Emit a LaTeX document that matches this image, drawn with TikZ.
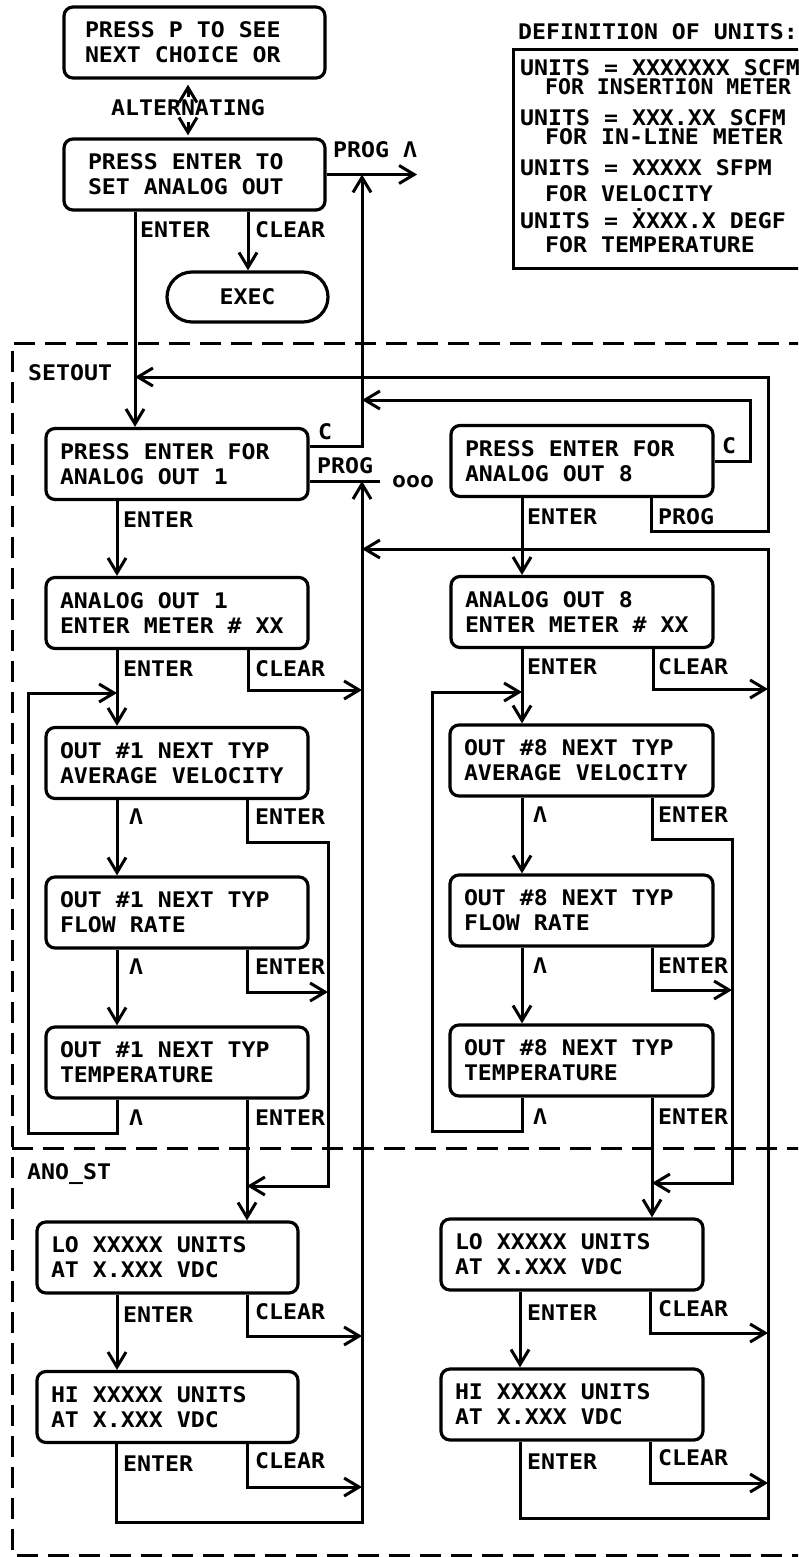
\documentclass[tikz,border=0pt]{standalone}
\usepackage{fontspec}
\newfontfamily\pf{DejaVu Sans Mono}[FakeStretch=1.08]
\newfontfamily\pfn{DejaVu Sans Mono}[FakeStretch=1.0]
\newcommand\plotfnt{\pf\bfseries\fontsize{21.5}{25}\selectfont}
\newcommand\plotfntn{\pfn\bfseries\fontsize{21.5}{25}\selectfont}
\usetikzlibrary{arrows.meta}
\begin{document}
\begin{tikzpicture}[x=1pt,y=-1pt,
  >={Straight Barb[length=15pt,width=18pt]},
  box/.style={draw, line width=3.2pt, rounded corners=9pt, align=flush left, minimum height=71pt,
    inner ysep=0pt, inner xsep=14pt, text width=234pt, font=\plotfnt},
  lbl/.style={anchor=base west, inner sep=0pt, font=\plotfnt},
  flow/.style={line width=3pt, ->},
  wire/.style={line width=3pt},
  frame/.style={line width=3pt, dash pattern=on 21pt off 10pt}]
\useasboundingbox (0,0) rectangle (798,1557);
\fill[white] (0,0) rectangle (798,1557);
\clip (0,0) rectangle (798,1557);

% top part
\node[box, text width=219pt, inner xsep=21pt] (p1) at (194.5,42.5) {PRESS P TO SEE\\NEXT CHOICE OR};
\node[box, text width=213pt, inner xsep=24pt] (p2) at (194.5,174.5) {PRESS ENTER TO\\SET ANALOG OUT};
\node[inner sep=0pt, font=\plotfnt] (alt) at (188,108) {ALTERNATING};
\node[draw, line width=3.2pt, rounded corners=25pt, minimum width=161pt, minimum height=50pt, inner sep=0pt, font=\plotfnt] (exec) at (247.5,297) {EXEC};
\node[lbl] (progA) at (333,157.8) {PROG Λ};
\node[lbl] (tEnt0) at (140,237.8) {ENTER};
\node[lbl] (tClr0) at (255,237.8) {CLEAR};

% definition of units
\node[lbl] (defT) at (518,39.8) {DEFINITION OF UNITS:};
\node[draw, line width=3.2pt, anchor=north west, minimum width=330pt, minimum height=219pt, inner sep=0pt] (defbox) at (512,48) {};
\node[lbl] (d1) at (520,75.8) {UNITS = XXXXXXX SCFM};
\node[lbl, font=\plotfntn] (d2) at (545,94.8) {FOR INSERTION METER};
\node[lbl] (d3) at (520,125.8) {UNITS = XXX.XX SCFM};
\node[lbl] (d4) at (545,144.8) {FOR IN-LINE METER};
\node[lbl] (d5) at (520,175.8) {UNITS = XXXXX SFPM};
\node[lbl] (d6) at (545,201.8) {FOR VELOCITY};
\node[lbl] (d7) at (520,228.8) {UNITS = ẊXXX.X DEGF};
\node[lbl] (d8) at (545,252.8) {FOR TEMPERATURE};

% frames
\draw[frame] (810,343) -- (12,343) -- (12,1555) -- (810,1555);
\draw[frame] (12,1148) -- (810,1148);
\node[lbl] (setout) at (28,380.8) {SETOUT};
\node[lbl] (anost) at (27,1179.8) {ANO\_ST};

% left column
\node[box] (a1) at (177,464) {PRESS ENTER FOR\\ANALOG OUT 1};
\node[box] (a2) at (177,613) {ANALOG OUT 1\\ENTER METER \# XX};
\node[box] (a3) at (177,763) {OUT \#1 NEXT TYP\\AVERAGE VELOCITY};
\node[box] (a4) at (177,912.5) {OUT \#1 NEXT TYP\\FLOW RATE};
\node[box] (a5) at (177,1062.5) {OUT \#1 NEXT TYP\\TEMPERATURE};
\node[box, text width=233pt] (a6) at (167.5,1257.5) {LO XXXXX UNITS\\AT X.XXX VDC};
\node[box, text width=233pt] (a7) at (167.5,1407) {HI XXXXX UNITS\\AT X.XXX VDC};

% right column
\node[box] (b1) at (582,461) {PRESS ENTER FOR\\ANALOG OUT 8};
\node[box] (b2) at (582,612) {ANALOG OUT 8\\ENTER METER \# XX};
\node[box, text width=235pt] (b3) at (581.5,760.5) {OUT \#8 NEXT TYP\\AVERAGE VELOCITY};
\node[box, text width=235pt] (b4) at (581.5,910.5) {OUT \#8 NEXT TYP\\FLOW RATE};
\node[box, text width=235pt] (b5) at (581.5,1060.5) {OUT \#8 NEXT TYP\\TEMPERATURE};
\node[box] (b6) at (572,1254.5) {LO XXXXX UNITS\\AT X.XXX VDC};
\node[box] (b7) at (572,1404.5) {HI XXXXX UNITS\\AT X.XXX VDC};

% labels
\node[lbl] (cA) at (318,439) {C};
\node[lbl] (pgA) at (317,473.8) {PROG};
\node[lbl] (ooo) at (392,487) {ooo};
\node[lbl] (cB) at (722,453.8) {C};
\node[lbl] (pgB) at (658,524.8) {PROG};
\node[lbl] at (123,527.8) {ENTER};
\node[lbl] at (527,524.8) {ENTER};
\node[lbl] at (123,676.8) {ENTER};
\node[lbl] at (255,676.8) {CLEAR};
\node[lbl] at (527,674.8) {ENTER};
\node[lbl] at (658,674.8) {CLEAR};
\node[lbl] at (129,824.8) {Λ};
\node[lbl] at (255,824.8) {ENTER};
\node[lbl] at (129,974.8) {Λ};
\node[lbl] at (255,974.8) {ENTER};
\node[lbl] at (129,1125.8) {Λ};
\node[lbl] at (255,1125.8) {ENTER};
\node[lbl] at (533,822.8) {Λ};
\node[lbl] at (658,822.8) {ENTER};
\node[lbl] at (533,973.8) {Λ};
\node[lbl] at (658,973.8) {ENTER};
\node[lbl] at (533,1124.8) {Λ};
\node[lbl] at (658,1124.8) {ENTER};
\node[lbl] at (123,1322.8) {ENTER};
\node[lbl] at (255,1319.8) {CLEAR};
\node[lbl] at (123,1471.8) {ENTER};
\node[lbl] at (255,1468.8) {CLEAR};
\node[lbl] at (527,1320.8) {ENTER};
\node[lbl] at (658,1316.8) {CLEAR};
\node[lbl] at (527,1469.8) {ENTER};
\node[lbl] at (658,1465.8) {CLEAR};

% top connectors
\draw[flow, shorten >=5pt, shorten <=3pt] (alt.north) -- (alt.north |- p1.south);
\draw[flow, shorten >=2pt, shorten <=6pt] (alt.south) -- (alt.south |- p2.north);
\coordinate (pout) at (417,174.5);
\draw[flow] (p2.east) -- (pout);
\draw[flow] (135,0 |- p2.south) -- (135,0 |- a1.north);
\draw[flow] (248,0 |- p2.south) -- (248,0 |- exec.north);
\draw[flow] (a1.east |- 0,446) -- (362,446) -- (362,0 |- pout);
\draw[wire] (ooo.west -| a1.east) -- ([xshift=-12pt]ooo.west);
\draw[flow] (651,0 |- b1.south) -- (651,531) -- (768,531) -- (768,377) -- (135,377);
\draw[flow] (b1.east) -- (750,461) -- (750,400) -- (362,400);
\draw[flow] (116,0 |- a7.south) -- (116,1522) -- (362,1522) -- (362,0 |- ooo.west);
\draw[flow] (520,0 |- b7.south) -- (520,1518) -- (768,1518) -- (768,549) -- (362,549);

% left column connectors
\draw[flow] (117,0 |- a1.south) -- (117,0 |- a2.north);
\draw[flow] (117,0 |- a2.south) -- (117,0 |- a3.north);
\draw[flow] (117,0 |- a5.south) -- (117,1133) -- (28,1133) -- (28,693) -- (117,693);
\draw[flow] (117,0 |- a3.south) -- (117,0 |- a4.north);
\draw[flow] (117,0 |- a4.south) -- (117,0 |- a5.north);
\draw[flow] (248,0 |- a2.south) -- (248,690) -- (362,690);
\draw[flow] (247,0 |- a3.south) -- (247,842) -- (328,842) -- (328,1186) -- (247,1186);
\draw[flow] (247,0 |- a4.south) -- (247,992) -- (328,992);
\draw[flow] (247,0 |- a5.south) -- (247,0 |- a6.north);
\draw[flow] (117,0 |- a6.south) -- (117,0 |- a7.north);
\draw[flow] (247,0 |- a6.south) -- (247,1336) -- (362,1336);
\draw[flow] (247,0 |- a7.south) -- (247,1487) -- (362,1487);

% right column connectors
\draw[flow] (522,0 |- b1.south) -- (522,0 |- b2.north);
\draw[flow] (522,0 |- b2.south) -- (522,0 |- b3.north);
\draw[flow] (522,0 |- b5.south) -- (522,1131) -- (432,1131) -- (432,692) -- (522,692);
\draw[flow] (522,0 |- b3.south) -- (522,0 |- b4.north);
\draw[flow] (522,0 |- b4.south) -- (522,0 |- b5.north);
\draw[flow] (653,0 |- b2.south) -- (653,689) -- (768,689);
\draw[flow] (652,0 |- b3.south) -- (652,839) -- (732,839) -- (732,1183) -- (652,1183);
\draw[flow] (652,0 |- b4.south) -- (652,990) -- (732,990);
\draw[flow] (652,0 |- b5.south) -- (652,0 |- b6.north);
\draw[flow] (520,0 |- b6.south) -- (520,0 |- b7.north);
\draw[flow] (650,0 |- b6.south) -- (650,1333) -- (768,1333);
\draw[flow] (650,0 |- b7.south) -- (650,1483) -- (768,1483);
\end{tikzpicture}
\end{document}
